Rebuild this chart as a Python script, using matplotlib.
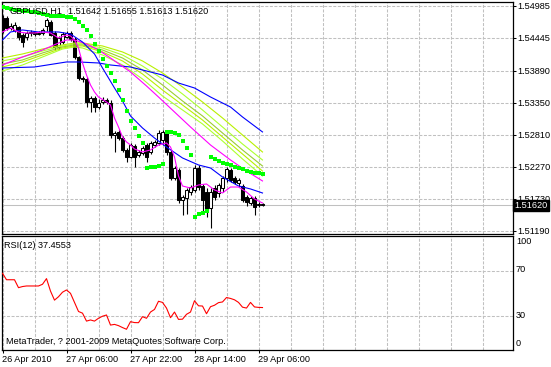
import matplotlib
matplotlib.use('Agg')
import matplotlib.pyplot as plt
import numpy as np

# ---------------- data ----------------
opens = [1.54782, 1.54782, 1.54614, 1.54580, 1.54630, 1.54495, 1.54462, 1.54529, 1.54546, 1.54512,
         1.54529, 1.54647, 1.54715, 1.54529, 1.54293, 1.54377, 1.54462, 1.54529, 1.54428, 1.54124,
         1.53770, 1.53753, 1.53365, 1.53432, 1.53280, 1.53365, 1.53399, 1.53348, 1.52808, 1.52859,
         1.52757, 1.52555, 1.52437, 1.52622, 1.52470, 1.52504, 1.52639, 1.52521, 1.52639, 1.52673,
         1.52724, 1.52859, 1.52521, 1.52082, 1.52217, 1.51711, 1.51745, 1.51846, 1.51880, 1.52251,
         1.51947, 1.51846, 1.51576, 1.51913, 1.51829, 1.51913, 1.52082, 1.52217, 1.52082, 1.51998,
         1.51947, 1.51762, 1.51660, 1.51745, 1.51627, 1.51642]
highs = [1.54833, 1.54816, 1.54698, 1.54715, 1.54647, 1.54529, 1.54563, 1.54580, 1.54563, 1.54563,
         1.54614, 1.54782, 1.54749, 1.54563, 1.54479, 1.54546, 1.54563, 1.54563, 1.54462, 1.54141,
         1.53804, 1.53787, 1.53466, 1.53466, 1.53415, 1.53449, 1.53432, 1.53399, 1.52875, 1.52892,
         1.52791, 1.52589, 1.52673, 1.52656, 1.52555, 1.52622, 1.52673, 1.52707, 1.52724, 1.52892,
         1.52892, 1.52892, 1.52555, 1.52285, 1.52251, 1.51795, 1.51913, 1.51964, 1.52302, 1.52302,
         1.51981, 1.51913, 1.51913, 1.51964, 1.51998, 1.52116, 1.52268, 1.52251, 1.52116, 1.52082,
         1.51981, 1.51795, 1.51778, 1.51778, 1.51677, 1.51655]
lows = [1.54529, 1.54580, 1.54580, 1.54546, 1.54411, 1.54293, 1.54411, 1.54479, 1.54479, 1.54495,
        1.54495, 1.54563, 1.54479, 1.54242, 1.54259, 1.54344, 1.54445, 1.54394, 1.54090, 1.53736,
        1.53702, 1.53280, 1.53196, 1.53196, 1.53247, 1.53331, 1.53331, 1.52757, 1.52521, 1.52724,
        1.52521, 1.52352, 1.52420, 1.52268, 1.52437, 1.52470, 1.52352, 1.52487, 1.52605, 1.52639,
        1.52639, 1.52470, 1.52049, 1.52049, 1.51660, 1.51458, 1.51475, 1.51795, 1.51846, 1.51880,
        1.51492, 1.51424, 1.51239, 1.51711, 1.51762, 1.51846, 1.52015, 1.52015, 1.51981, 1.51930,
        1.51677, 1.51610, 1.51627, 1.51458, 1.51593, 1.51613]
closes = [1.54580, 1.54614, 1.54647, 1.54664, 1.54462, 1.54377, 1.54529, 1.54546, 1.54512, 1.54529,
          1.54580, 1.54749, 1.54495, 1.54293, 1.54445, 1.54512, 1.54529, 1.54428, 1.54124, 1.53770,
          1.53753, 1.53365, 1.53432, 1.53280, 1.53348, 1.53399, 1.53365, 1.52808, 1.52842, 1.52757,
          1.52555, 1.52437, 1.52639, 1.52437, 1.52521, 1.52589, 1.52437, 1.52673, 1.52690, 1.52842,
          1.52859, 1.52521, 1.52082, 1.52251, 1.51711, 1.51762, 1.51880, 1.51930, 1.52251, 1.51930,
          1.51711, 1.51559, 1.51846, 1.51762, 1.51964, 1.52082, 1.52234, 1.52049, 1.52015, 1.52049,
          1.51711, 1.51677, 1.51745, 1.51593, 1.51644, 1.51620]

# Parabolic SAR (one dot per bar)
sar = [1.54968, 1.54951, 1.54934, 1.54917, 1.54909, 1.54900, 1.54892, 1.54884, 1.54875, 1.54867,
       1.54850, 1.54833, 1.54824, 1.54816, 1.54816, 1.54808, 1.54799, 1.54791, 1.54765, 1.54715,
       1.54647, 1.54580, 1.54479, 1.54344, 1.54225, 1.54090, 1.53972, 1.53854, 1.53719, 1.53567,
       1.53399, 1.53213, 1.53044, 1.52926, 1.52791, 1.52673, 1.52251, 1.52268, 1.52268, 1.52285,
       1.52319, 1.52859, 1.52859, 1.52842, 1.52808, 1.52707, 1.52589, 1.52470, 1.51424, 1.51475,
       1.51492, 1.51525, 1.52437, 1.52403, 1.52369, 1.52335, 1.52319, 1.52302, 1.52268, 1.52251,
       1.52234, 1.52200, 1.52184, 1.52167, 1.52158, 1.52150]

# fast magenta moving average (bar index, price)
ma_fast_bars = [0, 2, 4, 6, 8, 10, 12, 14, 16, 17, 18, 19, 20, 21, 22, 23, 24, 26, 27, 28, 29, 30,
                31, 32, 33, 35, 37, 39, 41, 42, 43, 44, 45, 47, 49, 51, 53, 55, 57, 59, 61, 63, 65]
ma_fast = [1.54546, 1.54614, 1.54546, 1.54529, 1.54529, 1.54546, 1.54529, 1.54445, 1.54495, 1.54479,
           1.54411, 1.54276, 1.54023, 1.53820, 1.53652, 1.53533, 1.53449, 1.53365, 1.53314, 1.53095,
           1.52943, 1.52774, 1.52690, 1.52639, 1.52572, 1.52521, 1.52555, 1.52639, 1.52673, 1.52605,
           1.52437, 1.52116, 1.51947, 1.51913, 1.51964, 1.51981, 1.51880, 1.51829, 1.51930, 1.51930,
           1.51846, 1.51728, 1.51660]

# slow magenta moving average
ma_slow_bars = [0, 5, 10, 14, 16, 18, 21, 24, 27, 32, 36, 39, 43, 47, 52, 57, 61, 65]
ma_slow = [1.53989, 1.54124, 1.54242, 1.54360, 1.54411, 1.54411, 1.54344, 1.54242, 1.54107, 1.53871,
           1.53635, 1.53449, 1.53196, 1.52943, 1.52639, 1.52386, 1.52200, 1.52032]

# blue moving average (medium)
blue_a_bars = [0, 2, 5, 9, 14, 17, 20, 23, 25, 28, 30, 32, 35, 38, 41, 45, 49, 52, 55, 59, 62, 65]
blue_a = [1.54411, 1.54546, 1.54580, 1.54546, 1.54546, 1.54512, 1.54377, 1.54175, 1.53939, 1.53601,
          1.53382, 1.53129, 1.52926, 1.52757, 1.52605, 1.52420, 1.52302, 1.52251, 1.52099, 1.51947,
          1.51897, 1.51829]

# blue moving average (slow)
blue_b_bars = [0, 8, 16, 19, 24, 27, 32, 37, 40, 44, 48, 52, 57, 60, 65]
blue_b = [1.53939, 1.53955, 1.54040, 1.54040, 1.54023, 1.53989, 1.53955, 1.53871, 1.53820, 1.53685,
          1.53601, 1.53449, 1.53280, 1.53112, 1.52859]

# yellow-green moving average fan
fan_bars = [0, 5, 10, 15, 18, 20, 25, 30, 35, 40, 45, 50, 55, 60, 65]
fan1 = [1.54107, 1.54175, 1.54259, 1.54327, 1.54360, 1.54360, 1.54310, 1.54209, 1.54057, 1.53854,
        1.53618, 1.53365, 1.53095, 1.52808, 1.52521]
fan2 = [1.54057, 1.54124, 1.54225, 1.54310, 1.54344, 1.54344, 1.54276, 1.54158, 1.53972, 1.53753,
        1.53500, 1.53230, 1.52943, 1.52656, 1.52386]
fan3 = [1.54006, 1.54074, 1.54192, 1.54293, 1.54327, 1.54327, 1.54242, 1.54107, 1.53905, 1.53652,
        1.53382, 1.53129, 1.52842, 1.52555, 1.52285]
fan4 = [1.53955, 1.54040, 1.54158, 1.54276, 1.54310, 1.54310, 1.54209, 1.54057, 1.53837, 1.53567,
        1.53314, 1.53061, 1.52774, 1.52487, 1.52200]
fan5 = [1.53888, 1.53989, 1.54124, 1.54259, 1.54293, 1.54276, 1.54158, 1.53989, 1.53753, 1.53466,
        1.53230, 1.52994, 1.52707, 1.52403, 1.52116]

# RSI(12), one value per bar
rsi = [67.7, 62, 62, 62, 55, 56, 56.5, 56.5, 56.5, 56.5,
       58, 63, 52, 44, 47, 51, 53, 50, 42, 34,
       32.5, 25.5, 26.5, 25.5, 28, 29.8, 30.9, 22, 22.6, 21.5,
       19.8, 18.3, 25, 24.2, 24.1, 29.4, 28, 33.5, 35.8, 43,
       42, 37, 28.5, 33.5, 27, 27.2, 31.5, 33.5, 43.5, 39,
       38.8, 32, 38.2, 39.5, 41.8, 42.4, 46.3, 45.5, 44.3, 42,
       37.8, 37, 42, 38, 37.6, 37.4553]

price_ticks = [1.54985, 1.54445, 1.53890, 1.53350, 1.52810, 1.52270, 1.51730, 1.51190]
price_labels = ["1.54985", "1.54445", "1.53890", "1.53350", "1.52810", "1.52270", "1.51730", "1.51190"]
last_price = 1.51620
time_tick_bars = [0, 16, 32, 48, 64]
time_labels = ["26 Apr 2010", "27 Apr 06:00", "27 Apr 22:00", "28 Apr 14:00", "29 Apr 06:00"]
rsi_levels = [70, 30]
rsi_label_vals = ["100", "70", "30", "0"]

# ---------------- figure ----------------
plt.rcParams['font.family'] = ['Liberation Sans', 'DejaVu Sans']
FS = 6.6
W, H = 551, 367
fig = plt.figure(figsize=(W / 100, H / 100), dpi=100)
fig.patch.set_facecolor('white')


def fx(px):
    return px / W


def fy(py):
    return 1 - py / H


ax = fig.add_axes([fx(2), fy(234), fx(513) - fx(2), fy(2) - fy(234)])
ax2 = fig.add_axes([fx(2), fy(350), fx(513) - fx(2), fy(236) - fy(350)])

XMIN, XMAX = -0.125, 127.625
GRID = '#C0C0C0'
DASH = (0, (2.9, 1.45))

# main panel
ax.set_xlim(XMIN, XMAX)
ax.set_ylim(1.51137, 1.55052)
for b in range(0, 128, 8):
    ax.axvline(b, color=GRID, lw=0.75, ls=DASH, zorder=0)
    ax2.axvline(b, color=GRID, lw=0.75, ls=DASH, zorder=0)
for p in price_ticks:
    ax.axhline(p, color=GRID, lw=0.75, ls=DASH, zorder=0)
ax.axhline(last_price, color=GRID, lw=0.75, zorder=0.5)

o = np.array(opens); c = np.array(closes); h = np.array(highs); l = np.array(lows)
xb = np.arange(len(o))
ax.vlines(xb, l, h, color='black', lw=0.8, zorder=2)
bot = np.minimum(o, c)
ht = np.maximum(np.abs(c - o), 0.00002)
cols = ['white' if cc > oo else 'black' for oo, cc in zip(o, c)]
ax.bar(xb, ht, bottom=bot, width=0.55, color=cols, edgecolor='black', linewidth=0.75, zorder=2.5)

LW = 0.8
for fan, col in zip([fan1, fan2, fan3, fan4, fan5],
                    ['#B8F000', '#ADFF2F', '#9ACD32', '#B8F000', '#ADFF2F']):
    ax.plot(fan_bars, fan, color=col, lw=LW, zorder=3)
ax.plot(blue_b_bars, blue_b, color='#0000FF', lw=LW, zorder=3)
ax.plot(ma_slow_bars, ma_slow, color='#FF00FF', lw=LW, zorder=3)
ax.plot(blue_a_bars, blue_a, color='#0000FF', lw=LW, zorder=3)
ax.plot(ma_fast_bars, ma_fast, color='#FF00FF', lw=LW, zorder=3)
ax.plot(xb, sar, ls='none', marker='s', ms=3.0, mew=0, color='#00FF00', zorder=4)

ax.set_xticks([])
ax.yaxis.tick_right()
ax.set_yticks(price_ticks)
ax.set_yticklabels(price_labels, fontsize=FS)
ax.tick_params(axis='y', direction='out', length=2.2, width=0.75, pad=1.2)
for s in ax.spines.values():
    s.set_color('black'); s.set_linewidth(0.9)

# last price box
ax.text(1.0025, last_price, "1.51620", transform=ax.get_yaxis_transform(), fontsize=FS,
        color='white', va='center', ha='left', zorder=6,
        bbox=dict(boxstyle='square,pad=0.12', fc='black', ec='black'))

fig.text(fx(9), fy(11), "GBPUSD,H1", fontsize=FS, va='center', ha='left', zorder=10)
fig.text(fx(68), fy(11), "1.51642 1.51655 1.51613 1.51620", fontsize=FS, va='center', ha='left', zorder=10)

# RSI panel
ax2.set_xlim(XMIN, XMAX)
ax2.set_ylim(0, 100.6)
for lv in rsi_levels:
    ax2.axhline(lv, color=GRID, lw=0.75, ls=DASH, zorder=0)
ax2.plot(xb, rsi, color='#FF0000', lw=LW, zorder=3)
ax2.set_xticks(time_tick_bars)
ax2.set_xticklabels(time_labels, fontsize=FS, ha='left')
ax2.tick_params(axis='x', direction='out', length=2.2, width=0.75, pad=1.5)
ax2.set_yticks([])
for s in ax2.spines.values():
    s.set_color('black'); s.set_linewidth(0.9)
for txt, py in zip(rsi_label_vals, [242, 270, 315, 343]):
    fig.text(fx(516), fy(py), txt, fontsize=FS, va='center', ha='left')
fig.text(fx(4), fy(245), "RSI(12) 37.4553", fontsize=FS, va='center', ha='left')
fig.text(fx(6), fy(341), "MetaTrader, ? 2001-2009 MetaQuotes Software Corp.", fontsize=FS,
         va='center', ha='left')

fig.savefig('out.png', dpi=100, facecolor='white')
